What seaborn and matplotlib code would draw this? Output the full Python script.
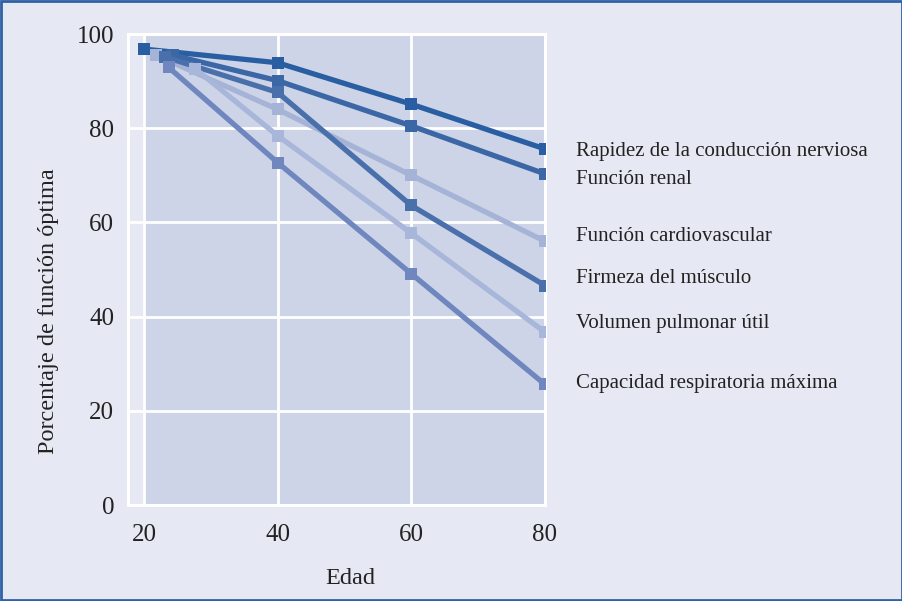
import matplotlib
matplotlib.use("Agg")
import matplotlib.pyplot as plt
import seaborn as sns
import pandas as pd
from matplotlib.patches import Rectangle

series_names = [
    "Rapidez de la conducción nerviosa",
    "Función renal",
    "Función cardiovascular",
    "Firmeza del músculo",
    "Volumen pulmonar útil",
    "Capacidad respiratoria máxima",
]
ages_rapidez = [20, 40, 60, 80]
vals_rapidez = [96.8, 93.9, 85.1, 75.6]
ages_renal = [24.3, 40, 60, 80]
vals_renal = [95.5, 90.1, 80.5, 70.3]
ages_cardio = [21.8, 40, 60, 80]
vals_cardio = [95.5, 84.0, 70.0, 56.0]
ages_firmeza = [23.2, 40, 60, 80]
vals_firmeza = [95.1, 87.6, 63.6, 46.6]
ages_volumen = [27.7, 40, 60, 80]
vals_volumen = [92.6, 78.4, 57.7, 36.7]
ages_capacidad = [23.7, 40, 60, 80]
vals_capacidad = [92.9, 72.7, 49.1, 25.6]

x_ticks = [20, 40, 60, 80]
y_ticks = [0, 20, 40, 60, 80, 100]

colors = ["#295ea2", "#3b67a6", "#a5b3d7", "#4a70ac", "#a8b6d9", "#6f87be"]
label_y = [75.0, 69.2, 57.0, 48.1, 38.6, 25.9]

all_ages = [ages_rapidez, ages_renal, ages_cardio, ages_firmeza, ages_volumen, ages_capacidad]
all_vals = [vals_rapidez, vals_renal, vals_cardio, vals_firmeza, vals_volumen, vals_capacidad]
rows = []
for name, xs, ys in zip(series_names, all_ages, all_vals):
    for x, y in zip(xs, ys):
        rows.append({"Edad": x, "Valor": y, "Serie": name})
df = pd.DataFrame(rows)

sns.set_theme(style="white")
plt.rcParams["font.family"] = ["Liberation Serif", "DejaVu Serif"]

bg = "#e6e9f3"
shade = "#cdd4e7"
txt = "#222222"
fig = plt.figure(figsize=(9.03, 6.01), dpi=100, facecolor=bg)
ax = fig.add_axes([0.1417, 0.1597, 0.4618, 0.7837])
ax.set_facecolor(bg)

ax.axvspan(20, 80, ymin=0, ymax=1, color=shade, zorder=0, lw=0)

sns.lineplot(data=df, x="Edad", y="Valor", hue="Serie", hue_order=series_names,
             palette=colors, marker="s", markersize=8.5, markeredgewidth=0,
             linewidth=3.8, dashes=False, legend=False, ax=ax, zorder=3,
             estimator=None, sort=True)

ax.set_xlim(17.6, 80)
ax.set_ylim(0, 100)
ax.set_xticks(x_ticks)
ax.set_yticks(y_ticks)
ax.grid(True, color="white", linewidth=2.0, zorder=1)
ax.set_axisbelow(True)
for s in ax.spines.values():
    s.set_color("white")
    s.set_linewidth(2.2)
    s.set_zorder(2)
ax.tick_params(axis="both", length=0, labelsize=18, colors=txt)
ax.tick_params(axis="y", pad=10)
ax.tick_params(axis="x", pad=14)
ax.set_xlabel("Edad", fontsize=17.5, color=txt, va="center")
ax.set_ylabel("Porcentaje de función óptima", fontsize=17.5, color=txt, va="center")
ax.xaxis.set_label_coords(0.532, -0.155)
ax.yaxis.set_label_coords(-0.19, 0.412)

for name, ly in zip(series_names, label_y):
    ax.text(1.075, ly, name, transform=ax.get_yaxis_transform(), fontsize=15,
            color=txt, va="center", ha="left", clip_on=False)

fig.patches.append(Rectangle((0.001, 0.001), 0.998, 0.998, transform=fig.transFigure,
                             fill=False, edgecolor="#2f62a5", linewidth=2, zorder=10))

fig.savefig("out.png", dpi=100, facecolor=bg)
